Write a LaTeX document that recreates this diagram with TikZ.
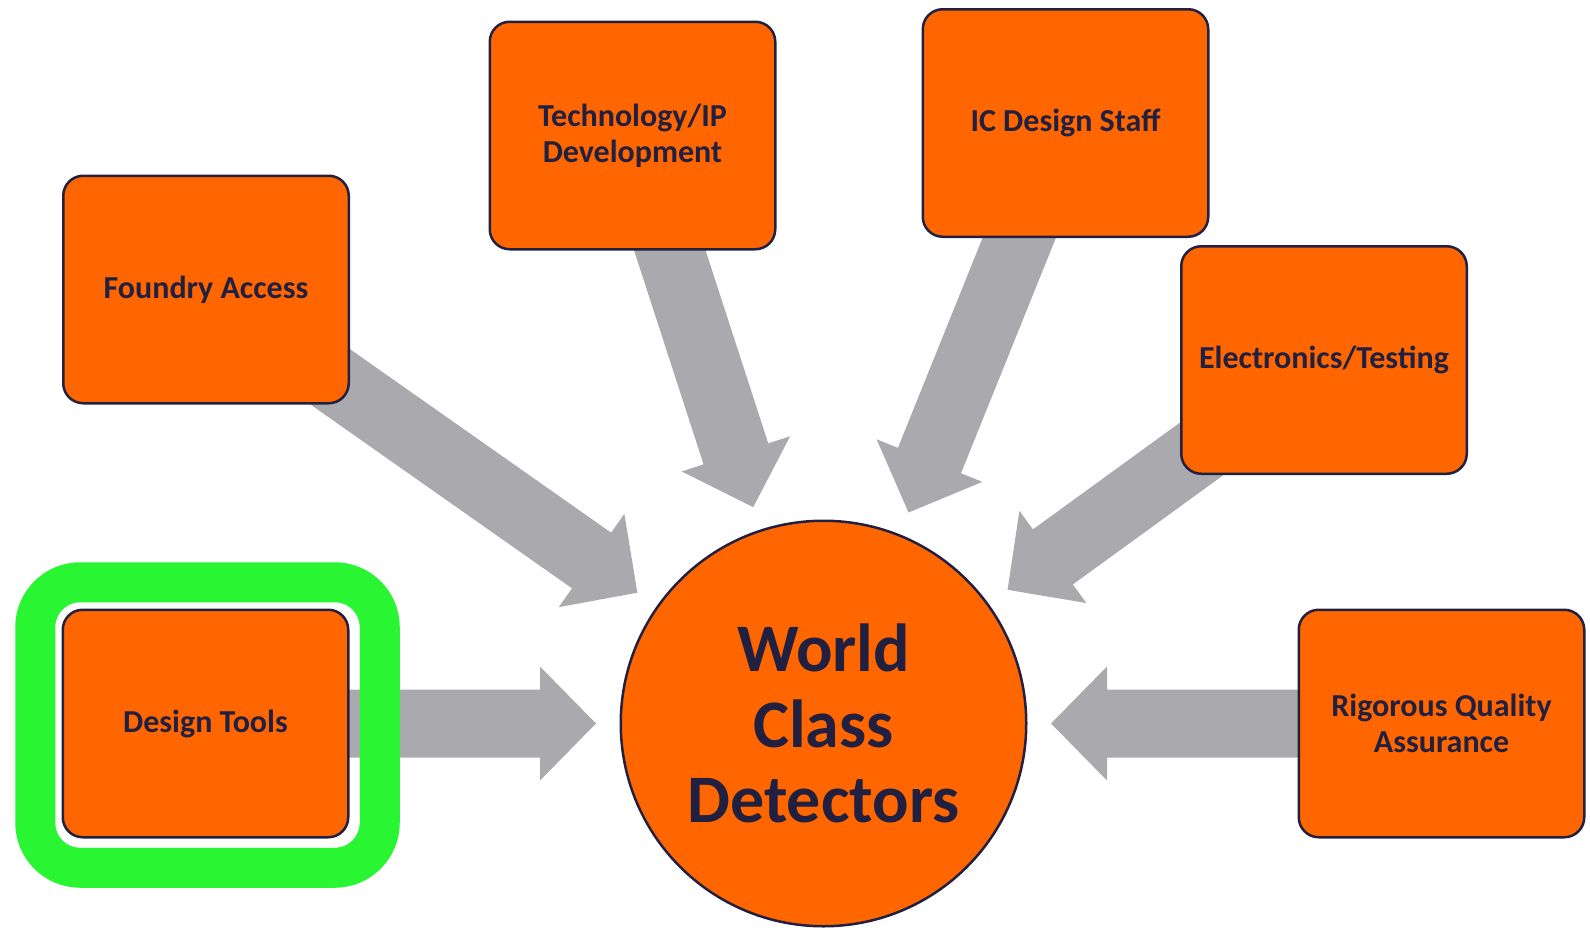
\documentclass[tikz,border=0pt]{standalone}
\usepackage{fontspec}
\setmainfont{Carlito}
\usetikzlibrary{calc,backgrounds}
\definecolor{boxorange}{RGB}{255,102,0}
\definecolor{navy}{RGB}{34,32,64}
\definecolor{arrowgray}{RGB}{170,170,174}
\definecolor{ringgreen}{RGB}{42,245,51}
\tikzset{
  box/.style={draw=navy, line width=2.5pt, fill=boxorange, rounded corners=20pt,
    minimum width=285.5pt, minimum height=227.5pt, align=center, inner sep=0pt, outer sep=0pt,
    font=\bfseries\fontsize{32}{36}\selectfont, text=navy},
  hub/.style={circle, draw=navy, line width=2.5pt, fill=boxorange, minimum size=405.5pt,
    align=center, inner sep=0pt, outer sep=0pt,
    font=\bfseries\fontsize{68}{75.5}\selectfont, text=navy},
  highlight/.style={draw=ringgreen, line width=40pt, rounded corners=45pt}
}
\newcommand{\bigarrow}[2]{%
  \path ($(#2.center)!227.5pt!(#1.center)$) coordinate (T)
        ($(#2.center)!283.5pt!(#1.center)$) coordinate (M);
  \fill[arrowgray] (T) -- ($(M)!57pt!90:(T)$) -- ($(M)!34pt!90:(T)$)
    -- ($(#1.center)!34pt!90:(T)$) -- ($(#1.center)!34pt!-90:(T)$)
    -- ($(M)!34pt!-90:(T)$) -- ($(M)!57pt!-90:(T)$) -- cycle;
}
\begin{document}
\begin{tikzpicture}[x=1pt,y=-1pt]
\useasboundingbox (0,0) rectangle (1590,929);
\node[box] (fa) at (206,289.5) {Foundry Access};
\node[box] (tech) at (632.5,135.5) {Technology/IP\\Development};
\node[box] (ic) at (1065.5,123) {IC Design Staff};
\node[box] (el) at (1324,360) {Electronics/Testing};
\node[box] (dt) at (205.5,723.5) {Design Tools};
\node[box] (rq) at (1441.5,723.5) {Rigorous Quality\\Assurance};
\node[hub] (wc) at (823.5,723.5) {World\\Class\\Detectors};
\begin{scope}[on background layer]
  \bigarrow{fa}{wc}
  \bigarrow{tech}{wc}
  \bigarrow{ic}{wc}
  \bigarrow{el}{wc}
  \bigarrow{dt}{wc}
  \bigarrow{rq}{wc}
\end{scope}
\draw[highlight] ($(dt.north west)+(-27.5,-27.5)$) rectangle ($(dt.south east)+(31.5,30.5)$);
\end{tikzpicture}
\end{document}
